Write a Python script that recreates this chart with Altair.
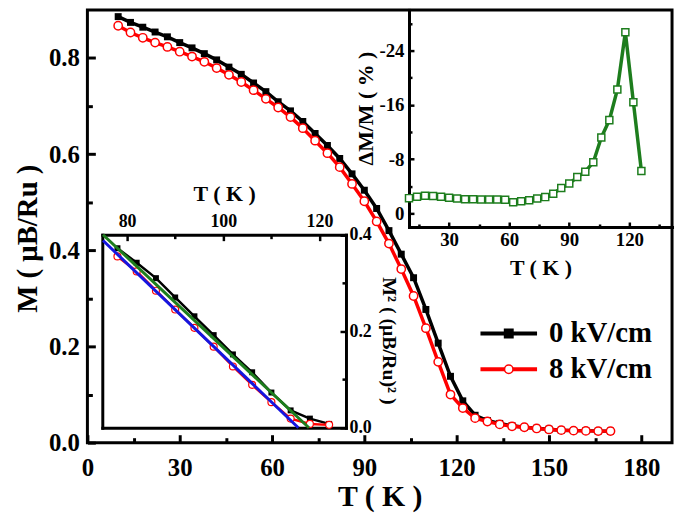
import altair as alt
import pandas as pd

# ---------------- data ----------------
T_main = [10, 14, 18, 22, 26, 30, 34, 38, 42, 46, 50, 54, 58, 62, 66, 70, 74, 78, 82, 86,
          90, 94, 98, 102, 106, 110, 114, 118, 122, 126, 130, 134, 138, 142, 146, 150,
          154, 158, 162, 166, 170]
M_0kV = [0.886, 0.874, 0.864, 0.854, 0.844, 0.832, 0.821, 0.809, 0.796, 0.781, 0.766,
         0.748, 0.730, 0.709, 0.690, 0.668, 0.643, 0.618, 0.591, 0.559, 0.525, 0.487,
         0.441, 0.392, 0.343, 0.277, 0.207, 0.138, 0.087, 0.057, 0.046, 0.040, 0.035,
         0.032, 0.030, 0.028, 0.026, 0.025, 0.025, 0.024, 0.024]
M_8kV = [0.867, 0.853, 0.842, 0.832, 0.823, 0.813, 0.803, 0.792, 0.779, 0.765, 0.750,
         0.733, 0.715, 0.697, 0.677, 0.654, 0.628, 0.602, 0.573, 0.538, 0.502, 0.460,
         0.414, 0.361, 0.305, 0.238, 0.168, 0.100, 0.072, 0.051, 0.044, 0.038, 0.034,
         0.032, 0.0295, 0.0275, 0.026, 0.025, 0.0245, 0.024, 0.024]

T_inset = [78, 82, 86, 90, 94, 98, 102, 106, 110, 114, 118, 122]
M2_0kV = [0.372, 0.342, 0.310, 0.270, 0.231, 0.192, 0.152, 0.115, 0.073, 0.036, 0.019, 0.008]
M2_8kV = [0.355, 0.324, 0.284, 0.245, 0.207, 0.168, 0.127, 0.089, 0.053, 0.019, 0.008, 0.006]
T_fit_green = [75.0, 117.8]
M2_fit_green = [0.400, 0.0]
T_fit_blue = [75.0, 115.6]
M2_fit_blue = [0.388, 0.0]

T_dm = [10, 14, 18, 22, 26, 30, 34, 38, 42, 46, 50, 54, 58, 62, 66, 70, 74, 78, 82, 86,
        90, 94, 98, 102, 106, 110, 114, 118, 122, 126]
dM_ratio = [-2.25, -2.45, -2.6, -2.55, -2.45, -2.3, -2.2, -2.1, -2.1, -2.05, -2.05, -2.05,
            -2.0, -1.65, -1.8, -1.95, -2.2, -2.4, -2.9, -3.75, -4.4, -5.35, -6.15, -7.55,
            -11.2, -13.75, -18.25, -26.7, -16.4, -6.25]

series_names = ["0 kV/cm", "8 kV/cm"]

main_x_ticks = [0, 30, 60, 90, 120, 150, 180]
main_x_minor = [15, 45, 75, 105, 135, 165]
main_y_ticks = [0.0, 0.2, 0.4, 0.6, 0.8]
main_y_minor = [0.1, 0.3, 0.5, 0.7]
in1_x_ticks = [80, 100, 120]
in1_x_minor = [90, 110]
in1_y_ticks = [0.0, 0.2, 0.4]
in1_y_minor = [0.1, 0.3]
in2_x_ticks = [30, 60, 90, 120]
in2_x_minor = [15, 45, 75, 105, 135]
in2_y_ticks = [0, -8, -16, -24]
in2_y_minor = [-4, -12, -20, -28]

# ---------------- layout / style ----------------
FONT = "Liberation Serif"
W, H = 589, 436
GREEN = "#1d7d1d"
BLUE = "#1515e0"

df_main = pd.DataFrame({"T": T_main, "M0": M_0kV, "M8": M_8kV})
df_in1 = pd.DataFrame({"T": T_inset, "Q0": M2_0kV, "Q8": M2_8kV})
df_green = pd.DataFrame({"T": T_fit_green, "Q": M2_fit_green})
df_blue = pd.DataFrame({"T": T_fit_blue, "Q": M2_fit_blue})
df_dm = pd.DataFrame({"T": T_dm, "D": dM_ratio})
df_leg = pd.DataFrame({"series": series_names})


def ax(orient, values=None, offset=0, tick=0, width=3, labels=False, fmt=None,
       size=25, pad=4, domain=False, title=None, **kw):
    args = dict(orient=orient, offset=offset, grid=False, domain=domain,
                ticks=tick > 0, labels=labels, labelFlush=False, labelOverlap=False,
                title=title)
    if domain:
        args.update(domainColor="black", domainWidth=3, domainCap="square")
    if values is not None:
        args["values"] = values
    if tick > 0:
        args.update(tickSize=tick, tickWidth=width, tickColor="black")
    if labels:
        args.update(labelFont=FONT, labelFontSize=size, labelFontWeight="bold",
                    labelColor="black", labelPadding=pad)
    if fmt:
        args["format"] = fmt
    if title is not None:
        args.update(titleFont=FONT, titleFontWeight="bold", titleColor="black",
                    titleAlign="center", titleBaseline="alphabetic")
    args.update(kw)
    return alt.Axis(**args)


def X(field, dom, axis, rng=None):
    sc = dict(domain=dom, nice=False, zero=False)
    if rng is not None:
        sc["range"] = rng
    return alt.X(f"{field}:Q", scale=alt.Scale(**sc), axis=axis)


def Y(field, dom, axis, rng=None):
    sc = dict(domain=dom, nice=False, zero=False)
    if rng is not None:
        sc["range"] = rng
    return alt.Y(f"{field}:Q", scale=alt.Scale(**sc), axis=axis)


MX, MY = [0, 190], [0, 0.9]
I1X, I1Y = [74.85, 125.5], [0, 0.4]
I1XR, I1YR = [15, 260.5], [421, 226.5]
I2X, I2Y = [10, 141.3], [2, -30]
I2XR, I2YR = [324, W], [218.7, 0]

# ---------------- main plot ----------------
main_black_line = alt.Chart(df_main).mark_line(color="black", strokeWidth=3.5).encode(
    x=X("T", MX, ax("bottom", main_x_ticks, offset=-8, tick=8, labels=True, fmt="d",
                    size=25, pad=13, title="T ( K )", titleFontSize=30,
                    titleX=W / 2, titleY=71, titleAngle=0)),
    y=Y("M0", MY, ax("left", main_y_ticks, offset=-8, tick=8, labels=True, fmt=".1f",
                     size=25, pad=8, title="M ( μB/Ru )", titleFontSize=29,
                     titleX=-59, titleY=230, titleAngle=270)),
)
main_black_pts = alt.Chart(df_main).mark_point(
    shape="square", filled=True, color="black", size=49, opacity=1).encode(
    x=X("T", MX, ax("bottom", main_x_minor, offset=-5, tick=5)),
    y=Y("M0", MY, ax("left", main_y_minor, offset=-5, tick=5)),
)
main_red_line = alt.Chart(df_main).mark_line(color="red", strokeWidth=3.5).encode(
    x=X("T", MX, None), y=Y("M8", MY, None))
main_red_pts = alt.Chart(df_main).mark_point(
    shape="circle", filled=True, fill="white", stroke="red", strokeWidth=1.5,
    size=70, opacity=1).encode(x=X("T", MX, None), y=Y("M8", MY, None))

# ---------------- inset 1: M^2 vs T ----------------
in1_black_line = alt.Chart(df_in1).mark_line(color="black", strokeWidth=2.5).encode(
    x=X("T", I1X, ax("top", in1_x_ticks, offset=-232.5, tick=6, width=2.5, labels=True,
                     fmt="d", size=18, pad=4, title="T ( K )", titleFontSize=22,
                     titleX=(I1XR[0] + I1XR[1]) / 2, titleY=-40.5, titleAngle=0), I1XR),
    y=Y("Q0", I1Y, ax("right", in1_y_ticks, offset=-334.5, tick=6, width=2.5, labels=True,
                      fmt=".1f", size=18, pad=3, title="M² ( (μB/Ru)² )",
                      titleFontSize=20, titleX=42.5, titleY=333, titleAngle=90), I1YR),
)
in1_black_pts = alt.Chart(df_in1).mark_point(
    shape="square", filled=True, color="black", size=36, opacity=1).encode(
    x=X("T", I1X, ax("top", in1_x_minor, offset=-230.5, tick=4, width=2.5), I1XR),
    y=Y("Q0", I1Y, ax("right", in1_y_minor, offset=-332.5, tick=4, width=2.5), I1YR),
)
in1_red_line = alt.Chart(df_in1).mark_line(color="red", strokeWidth=2.5).encode(
    x=X("T", I1X, ax("top", offset=-226.5, domain=True), I1XR),
    y=Y("Q8", I1Y, ax("right", offset=-328.5, domain=True), I1YR),
)
in1_red_pts = alt.Chart(df_in1).mark_point(
    shape="circle", filled=True, fill="white", stroke="red", strokeWidth=1.2,
    size=49, opacity=1).encode(
    x=X("T", I1X, ax("bottom", offset=-15, domain=True), I1XR),
    y=Y("Q8", I1Y, ax("left", offset=-15, domain=True), I1YR),
)
in1_green = alt.Chart(df_green).mark_line(color=GREEN, strokeWidth=3).encode(
    x=X("T", I1X, None, I1XR), y=Y("Q", I1Y, None, I1YR))
in1_blue = alt.Chart(df_blue).mark_line(color=BLUE, strokeWidth=3).encode(
    x=X("T", I1X, None, I1XR), y=Y("Q", I1Y, None, I1YR))

# ---------------- inset 2: dM/M vs T ----------------
in2_line = alt.Chart(df_dm).mark_line(color=GREEN, strokeWidth=3.5).encode(
    x=X("T", I2X, ax("bottom", in2_x_ticks, offset=-222.3, tick=5, width=2.5, labels=True,
                     fmt="d", size=19, pad=4, title="T ( K )", titleFontSize=22,
                     titleX=(I2XR[0] + I2XR[1]) / 2, titleY=53.3, titleAngle=0), I2XR),
    y=Y("D", I2Y, ax("left", in2_y_ticks, offset=-329, tick=5, width=2.5, labels=True,
                     size=19, pad=5, labelExpr="datum.value + ''", title="ΔM/M ( % )",
                     titleFontSize=22, titleX=-42, titleY=99, titleAngle=270), I2YR),
)
in2_pts = alt.Chart(df_dm).mark_point(
    shape="square", filled=True, fill="white", stroke=GREEN, strokeWidth=1.5,
    size=50, opacity=1).encode(
    x=X("T", I2X, ax("bottom", in2_x_minor, offset=-220.3, tick=3, width=2.5), I2XR),
    y=Y("D", I2Y, ax("left", in2_y_minor, offset=-327, tick=3, width=2.5), I2YR),
)
in2_frame = alt.Chart(df_dm).mark_point(opacity=0).encode(
    x=X("T", I2X, ax("bottom", offset=-217.3, domain=True), I2XR),
    y=Y("D", I2Y, ax("left", offset=-324, domain=True), I2YR),
)

# ---------------- legend (built through its own scales) ----------------
leg_y = alt.Y("series:N", scale=alt.Scale(type="point", domain=series_names,
                                          range=[326, 362], padding=0), axis=None)
leg_rule = alt.Chart(df_leg).mark_rule(strokeWidth=4).encode(
    x=alt.value(396), x2=alt.value(453), y=leg_y,
    color=alt.Color("series:N", scale=alt.Scale(domain=series_names, range=["black", "red"]),
                    legend=None),
)
leg_pts = alt.Chart(df_leg).mark_point(filled=True, strokeWidth=1.5, size=72, opacity=1).encode(
    x=alt.value(424.5), y=leg_y,
    shape=alt.Shape("series:N", scale=alt.Scale(domain=series_names, range=["square", "circle"]),
                    legend=None),
    fill=alt.Fill("series:N", scale=alt.Scale(domain=series_names, range=["black", "white"]),
                  legend=None),
    stroke=alt.Stroke("series:N", scale=alt.Scale(domain=series_names, range=["black", "red"]),
                      legend=None),
)
leg_txt = alt.Chart(df_leg).mark_text(
    align="left", baseline="middle", font=FONT, fontSize=29, fontWeight="bold",
    color="black").encode(x=alt.value(465), y=leg_y, text="series:N")

chart = alt.layer(
    main_black_line, main_black_pts, main_red_line, main_red_pts,
    in1_black_line, in1_black_pts, in1_red_line, in1_red_pts, in1_green, in1_blue,
    in2_line, in2_pts, in2_frame,
    leg_rule, leg_pts, leg_txt,
).resolve_scale(x="independent", y="independent").resolve_axis(
    x="independent", y="independent"
).properties(
    width=W, height=H,
    autosize=alt.AutoSizeParams(type="none"),
    padding={"left": 80, "top": 0, "right": 5, "bottom": 74},
).configure_view(stroke="black", strokeWidth=3)

chart.save("out.html", embed_options={"renderer": "svg", "actions": False})
